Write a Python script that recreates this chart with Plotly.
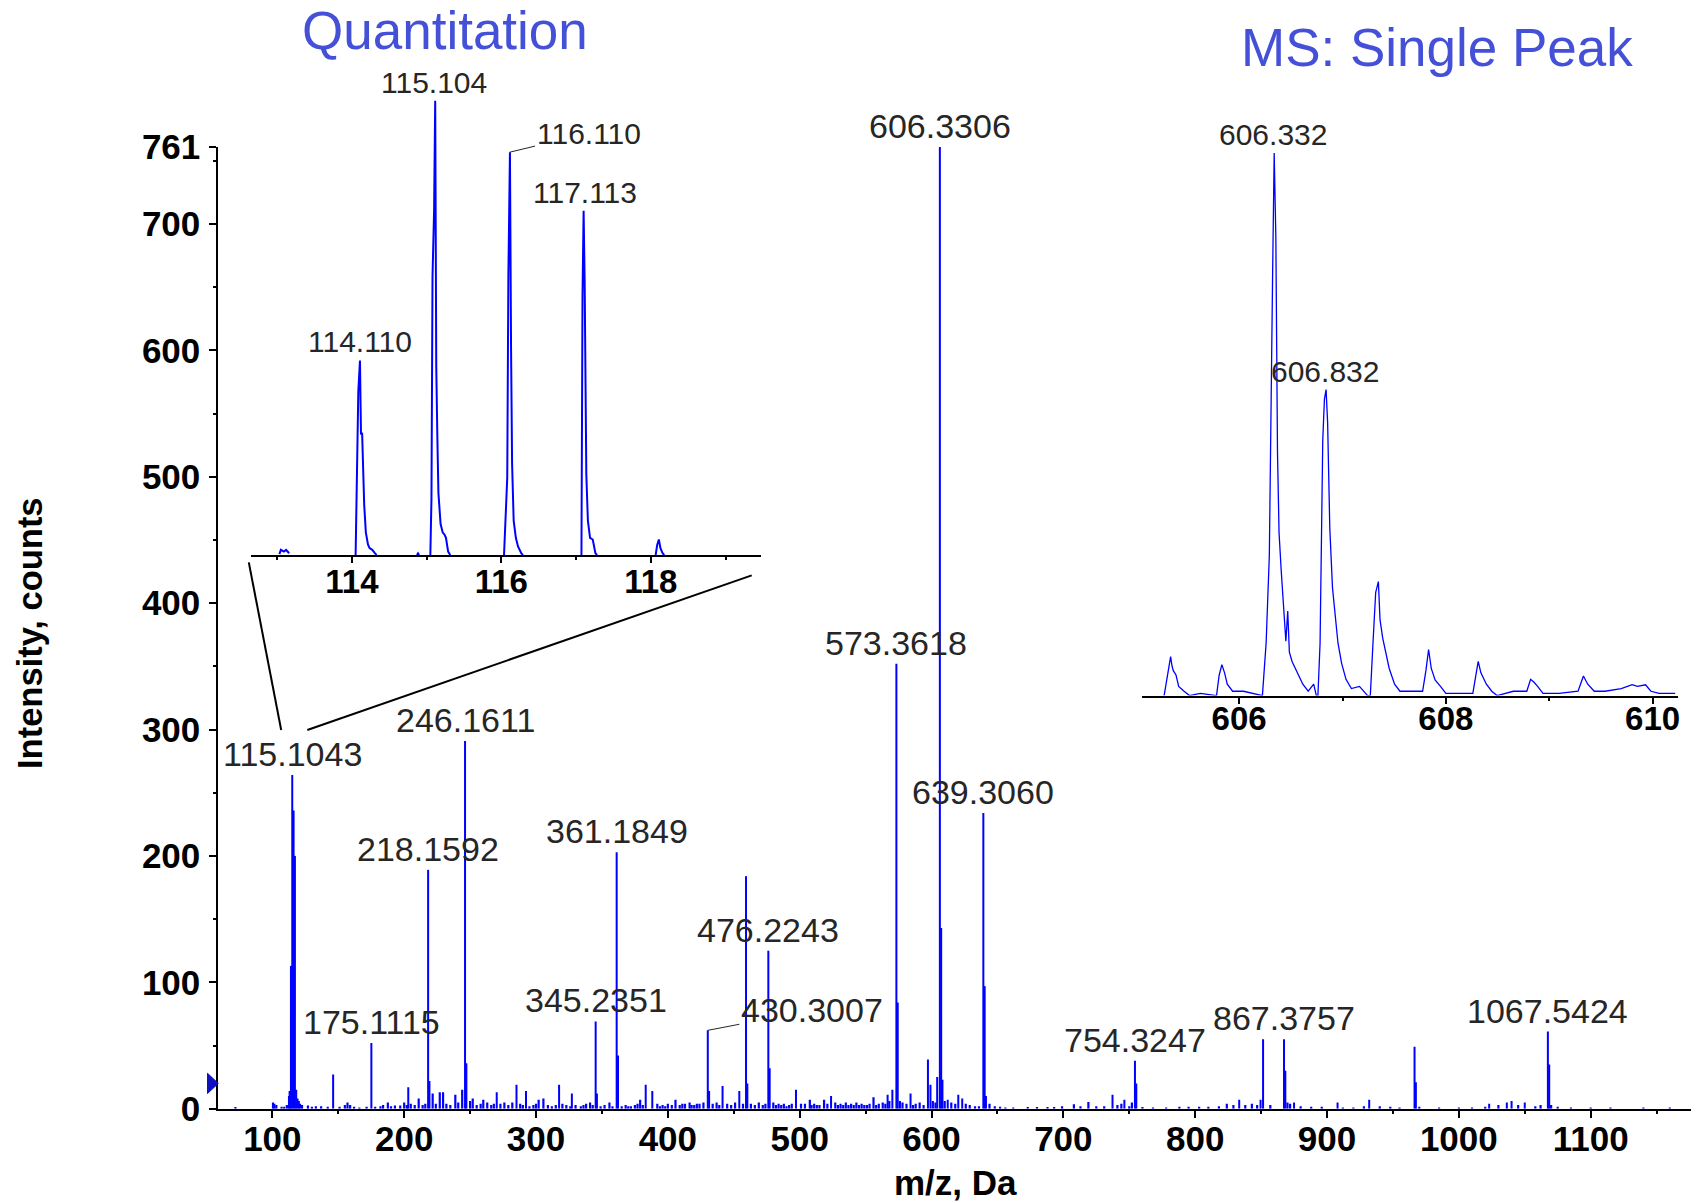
import plotly.graph_objects as go

# ---------------- data ----------------
# main spectrum: major sticks (m/z, counts)
pk_mz = [112.6, 113.1, 114.11, 115.10, 116.11, 117.11, 118.1, 119.1, 120.1, 146.1, 175.11, 203.1,
         218.16, 219.16, 246.16, 247.16, 270.2, 285.2, 292.4, 317.5, 327.2, 345.24, 346.2, 361.18,
         362.19, 383.2, 388.2, 430.30, 431.3, 441.5, 454.2, 459.3, 460.3, 476.22, 477.23, 497.2,
         523.8, 566.7, 570.3, 573.36, 574.37, 584.1, 597.3, 599.2, 604.3, 606.33, 607.33, 608.3,
         612.3, 620.3, 623.3, 639.31, 640.31, 641.3, 737.3, 746.3, 754.32, 755.33, 833.4, 849.6,
         851.5, 867.38, 868.38, 875.0, 908.0, 932.0, 966.4, 967.4, 1023.0, 1036.4, 1040.0, 1050.0,
         1067.54, 1068.54]
pk_int = [10, 14, 113, 264, 236, 200, 15, 8, 6, 27, 52, 17,
          189, 22, 291, 36, 13, 19, 14, 19, 12, 69, 12, 203,
          42, 19, 14, 62, 14, 18, 14, 184, 20, 125, 32, 15,
          10, 11, 15, 352, 84, 12, 39, 19, 25, 761, 143, 23,
          7, 11, 8, 234, 97, 10, 11, 7, 38, 20, 7, 7,
          55, 55, 30, 5, 5, 7, 49, 21, 4, 5, 6, 5,
          61, 35]

# baseline noise (m/z, counts)
noise_peaks = [
    (72, 1.3), (100.5, 5), (101.5, 4), (103, 3), (107, 1.5), (109, 1.5), (111, 3), (121, 4), (122.5, 3),
    (127, 2.5), (130, 1.5), (133, 2), (137, 2), (142, 1.5), (151, 1.5), (155, 3), (157, 5), (159, 3),
    (162, 1.5), (166, 1), (171.5, 1.5), (178, 1.5), (182, 2), (184, 3), (187.6, 5), (190, 2), (193, 2.5),
    (197, 2.5), (200, 5), (202, 3), (205, 4), (208, 3), (211, 8), (214, 3), (216, 4), (221.6, 12), (224, 4),
    (227, 13), (229.5, 13), (232, 4), (235, 3), (238.8, 11), (241, 5), (244, 15), (250, 6), (252, 8),
    (255, 3), (258, 4), (260, 7), (263, 5), (266, 3), (268, 4), (273, 4), (276, 5), (279, 3), (282, 5),
    (288, 4), (290, 3), (295, 2), (298, 3), (300, 4), (302, 7), (305.6, 8), (309, 3), (312, 2), (315, 3),
    (320, 4), (323, 3), (326, 2), (330, 3), (334, 2), (336, 3), (338, 4), (341, 5), (343, 3), (349, 2),
    (352, 3), (355.7, 5), (358, 2), (365, 2), (368, 3), (370, 2), (372, 2), (375, 3), (377, 4), (379, 7),
    (381, 3), (392, 4), (394, 2), (396, 3), (398, 2), (400, 4), (403, 3), (405.8, 7), (409, 3), (411, 4),
    (413, 4), (416.5, 5), (418, 3), (420, 3), (422, 4), (424, 4), (427, 5), (434, 4), (437, 5), (439, 3),
    (445, 4), (448, 3), (451, 5), (457, 4), (463, 4), (466, 3), (469, 5), (472, 3), (474, 4), (480, 5),
    (482, 3), (484, 4), (486, 3), (488, 4), (490, 2), (492, 3), (494, 4), (501, 4), (504, 4), (507.7, 7),
    (509, 3), (511, 4), (513, 3), (515, 3), (518.5, 7), (521, 4), (527, 5), (529, 3), (531, 4), (533, 3),
    (535, 5), (537, 3), (539, 4), (541, 3), (543, 5), (545, 3), (547, 4), (549, 3), (551, 3), (553, 4),
    (556, 9), (558, 3), (560, 4), (563, 5), (565, 4), (568, 6), (576, 6), (578, 5), (581, 4), (586, 3),
    (588, 4), (591, 5), (594, 3), (601, 6), (603, 5), (610, 6), (615, 5), (618, 4), (626, 4), (629, 3),
    (633, 2), (636, 2), (644, 4), (648, 2), (652, 1.5), (656, 1), (662, 1), (673, 1.3), (680, 1.3),
    (688, 1.3), (693, 1.3), (699, 2), (708, 3.5), (713, 2), (719, 5.4), (725, 2), (731, 2), (741, 3),
    (744, 4), (750, 2), (752, 5), (760, 1.3), (768, 1), (778, 1), (788, 1.5), (795, 1.5), (803, 1.5),
    (810, 1.5), (818, 2), (824, 4), (829, 3), (838, 3), (843, 4), (847, 3), (857, 3), (870, 5), (872, 4),
    (880, 2), (888, 1.5), (896, 1.5), (912, 1), (920, 1), (928, 2), (940, 2), (948, 1.5), (955, 1),
    (970, 1.5), (985, 1), (1000, 1), (1010, 1), (1020, 1.5), (1030, 3), (1045, 3), (1058, 2), (1062, 3),
    (1070, 3), (1075, 1.5), (1085, 1), (1100, 1), (1115, 1), (1140, 1), (1160, 1),
]

main_labels = [115.1043, 175.1115, 218.1592, 246.1611, 345.2351, 361.1849, 430.3007, 476.2243,
               573.3618, 606.3306, 639.3060, 754.3247, 867.3757, 1067.5424]
threshold = 20

# inset 1: reporter-ion region (profile segments, one list per peak)
q_segments_mz = [
    [113.03, 113.05, 113.09, 113.12, 113.16],
    [114.05, 114.07, 114.086, 114.108, 114.122, 114.137, 114.151, 114.165, 114.187, 114.216, 114.237,
     114.273, 114.31, 114.33],
    [114.87, 114.885, 114.90],
    [115.05, 115.065, 115.079, 115.10, 115.115, 115.129, 115.144, 115.158, 115.187, 115.216, 115.237,
     115.259, 115.288, 115.317],
    [116.036, 116.058, 116.079, 116.094, 116.115, 116.13, 116.144, 116.165, 116.194, 116.223, 116.266, 116.29],
    [117.072, 117.086, 117.101, 117.115, 117.137, 117.158, 117.187, 117.223, 117.259, 117.281],
    [118.065, 118.086, 118.108, 118.129, 118.158, 118.18],
]
q_segments_int = [
    [0.5, 3, 2, 3, 1],
    [0, 63, 95, 113, 70, 71, 40, 29, 13, 6, 4, 3, 1, 0],
    [0, 1, 0],
    [0, 33, 162, 200, 264, 110, 68, 36, 18, 13, 12, 10, 2, 0],
    [0, 30, 45, 162, 234, 120, 53, 20, 10, 5, 1, 0],
    [0, 150, 200, 158, 47, 20, 10, 9, 1, 0],
    [0, 6, 9, 4, 1, 0],
]
q_labels = [114.110, 115.104, 116.110, 117.113]

# inset 2: isotope cluster of 606.33 (profile, % of max)
s_mz = [605.274, 605.311, 605.337, 605.350, 605.363, 605.389, 605.415, 605.467, 605.520, 605.624, 605.781,
        605.807, 605.833, 605.859, 605.885, 605.937, 606.042,
        606.225, 606.261, 606.292, 606.308, 606.324, 606.339, 606.355, 606.371, 606.386, 606.407,
        606.433, 606.452, 606.470, 606.486, 606.512, 606.564, 606.616, 606.668, 606.721, 606.747,
        606.762, 606.783, 606.809, 606.825, 606.841, 606.856, 606.877, 606.903, 606.930, 606.956,
        606.992, 607.034, 607.086, 607.164, 607.243,
        607.269, 607.295, 607.321, 607.347, 607.363, 607.389, 607.415, 607.452, 607.504, 607.556, 607.661,
        607.775, 607.807, 607.833, 607.859, 607.896, 607.948, 608.000,
        608.261, 608.287, 608.313, 608.339, 608.392, 608.444, 608.496,
        608.653, 608.783, 608.820, 608.851, 608.888, 608.940,
        609.097, 609.279, 609.331, 609.373, 609.436, 609.540, 609.697,
        609.802, 609.854, 609.932, 609.984, 610.063, 610.219]
s_int = [0, 3.8, 7.2, 5.5, 4.6, 3.8, 1.7, 0.8, 0, 0.4, 0,
         3.8, 5.7, 4.2, 2.1, 0.8, 0.8,
         0, 9.7, 25.8, 58.8, 78, 100, 84.6, 44.8, 30, 23,
         16.5, 10, 15.6, 8, 6.3, 4.2, 2.1, 0.8, 2.1, 0,
         0, 9.7, 47, 54.6, 56.4, 50.3, 30.9, 19.9, 14, 9.7,
         5.9, 3, 1.3, 1.7, 0,
         0, 9.7, 19, 21, 14, 10.6, 8, 5, 2.1, 0.8, 0.8,
         0.8, 4.6, 8.5, 5, 2.9, 1.7, 0.4,
         0.4, 3, 6.3, 4.2, 2.1, 0.8, 0,
         0.8, 0.8, 3, 2.5, 1.7, 0.4,
         0.4, 0.8, 3.6, 2.1, 0.8, 0.8, 1.3,
         2, 1.7, 2, 0.8, 0.4, 0.4]
s_labels = [606.332, 606.832]

main_xticks = [100, 200, 300, 400, 500, 600, 700, 800, 900, 1000, 1100]
main_yticks = [0, 100, 200, 300, 400, 500, 600, 700, 761]
q_ticks = [114, 116, 118]
s_ticks = [606, 608, 610]

# ---------------- styling ----------------
W, H = 1696, 1203
BLUE = "#0000FF"
TITLE_BLUE = "#4450D7"
TXT = "#262626"
FONT = "Liberation Sans, Arial, sans-serif"


def px_x(p):
    return p / W


def px_y(p):
    return 1 - p / H


def sticks(mzs, ints):
    xs, ys = [], []
    for m, h in zip(mzs, ints):
        xs += [m, m, None]
        ys += [0, h, None]
    return xs, ys


def segments(seg_x, seg_y):
    xs, ys = [], []
    for sx, sy in zip(seg_x, seg_y):
        xs += list(sx) + [None]
        ys += list(sy) + [None]
    return xs, ys


fig = go.Figure()

nx, ny = sticks([p[0] for p in noise_peaks], [p[1] for p in noise_peaks])
fig.add_trace(go.Scatter(x=nx, y=ny, mode="lines", line=dict(color=BLUE, width=2.2),
                         hoverinfo="skip", showlegend=False, xaxis="x", yaxis="y"))
mx, my = sticks(pk_mz, pk_int)
fig.add_trace(go.Scatter(x=mx, y=my, mode="lines", line=dict(color=BLUE, width=2),
                         hoverinfo="skip", showlegend=False, xaxis="x", yaxis="y"))
qx, qy = segments(q_segments_mz, q_segments_int)
fig.add_trace(go.Scatter(x=qx, y=qy, mode="lines", line=dict(color=BLUE, width=2),
                         hoverinfo="skip", showlegend=False, xaxis="x2", yaxis="y2"))
fig.add_trace(go.Scatter(x=s_mz, y=s_int, mode="lines", line=dict(color=BLUE, width=1.3),
                         hoverinfo="skip", showlegend=False, xaxis="x3", yaxis="y3"))

axis_common = dict(showline=True, linecolor="black", linewidth=2, showgrid=False, zeroline=False,
                   ticks="outside", tickcolor="black", tickwidth=2, automargin=False)

fig.update_layout(
    template="none",
    width=W, height=H, margin=dict(l=0, r=0, t=0, b=0, pad=0), autosize=False,
    paper_bgcolor="white", plot_bgcolor="rgba(0,0,0,0)",
    font=dict(family=FONT, color="black"),
    xaxis=dict(**axis_common, domain=[px_x(218.3), px_x(1691)], range=[59.0, 1176.1],
               tickvals=main_xticks, ticklen=7, ticklabelstandoff=-9,
               tickfont=dict(size=35, family=FONT, weight="bold"),
               minor=dict(tickvals=[m + 50 for m in [0] + main_xticks], ticklen=3, tickwidth=2,
                          ticks="outside", tickcolor="black"),
               anchor="y"),
    yaxis=dict(**axis_common, domain=[px_y(1108.7), px_y(146.9)], range=[0, 761],
               tickvals=main_yticks, ticklen=7, ticklabelstandoff=2,
               tickfont=dict(size=35, family=FONT, weight="bold"),
               minor=dict(tickvals=[50, 150, 250, 350, 450, 550, 650, 750], ticklen=3, tickwidth=2,
                          ticks="outside", tickcolor="black"),
               anchor="x"),
    xaxis2=dict(**axis_common, domain=[px_x(251), px_x(761.4)], range=[112.65, 119.48],
                tickvals=q_ticks, ticklen=6, ticklabelstandoff=-10,
                tickfont=dict(size=33, family=FONT, weight="bold"),
                minor=dict(tickvals=[113, 115, 117, 119], ticklen=3, tickwidth=2,
                           ticks="outside", tickcolor="black"),
                anchor="y2"),
    yaxis2=dict(domain=[px_y(555), px_y(100.6)], range=[0, 264], visible=False, anchor="x2",
                automargin=False),
    xaxis3=dict(**axis_common, domain=[px_x(1142), px_x(1678.4)], range=[605.06, 610.25],
                tickvals=s_ticks, ticklen=6, ticklabelstandoff=-13,
                tickfont=dict(size=33, family=FONT, weight="bold"),
                minor=dict(tickvals=[607, 609], ticklen=3, tickwidth=2,
                           ticks="outside", tickcolor="black"),
                anchor="y3"),
    yaxis3=dict(domain=[px_y(695.6), px_y(152.9)], range=[0, 100], visible=False, anchor="x3",
                automargin=False),
)

annotations = []


def nearest(mz, xs, ys):
    best = min(range(len(xs)), key=lambda i: abs(xs[i] - mz))
    return ys[best]


for mz in main_labels:
    h = nearest(mz, pk_mz, pk_int)
    a = dict(x=mz, y=h, xref="x", yref="y", text=f"{mz:.4f}",
             font=dict(size=34, family=FONT, color=TXT), xanchor="center", yanchor="bottom",
             showarrow=False)
    if abs(mz - 430.3007) < 0.01:
        a.update(showarrow=True, ax=104, ay=-20, arrowhead=0, arrowwidth=1, arrowcolor=TXT,
                 xanchor="center", yanchor="middle", standoff=0)
    annotations.append(a)

q_all_mz = [m for seg in q_segments_mz for m in seg]
q_all_int = [v for seg in q_segments_int for v in seg]
for mz in q_labels:
    h = max(v for m, v in zip(q_all_mz, q_all_int) if abs(m - mz) < 0.1)
    a = dict(x=mz, y=h, xref="x2", yref="y2", text=f"{mz:.3f}",
             font=dict(size=30, family=FONT, color=TXT), xanchor="center", yanchor="bottom",
             showarrow=False)
    if abs(mz - 116.110) < 0.01:
        a.update(showarrow=True, ax=79, ay=-19, arrowhead=0, arrowwidth=1, arrowcolor=TXT,
                 yanchor="middle", standoff=0)
    annotations.append(a)

for mz in s_labels:
    h = max(v for m, v in zip(s_mz, s_int) if abs(m - mz) < 0.1)
    annotations.append(dict(x=mz, y=h, xref="x3", yref="y3", text=f"{mz:.3f}",
                            font=dict(size=30, family=FONT, color=TXT), xanchor="center",
                            yanchor="bottom", showarrow=False))

annotations += [
    dict(x=px_x(445), y=px_y(30), xref="paper", yref="paper", text="Quantitation", showarrow=False,
         font=dict(size=53, family=FONT, color=TITLE_BLUE), xanchor="center", yanchor="middle"),
    dict(x=px_x(1437), y=px_y(47.6), xref="paper", yref="paper", text="MS: Single Peak", showarrow=False,
         font=dict(size=53, family=FONT, color=TITLE_BLUE), xanchor="center", yanchor="middle"),
    dict(x=px_x(955), y=px_y(1182), xref="paper", yref="paper", text="m/z, Da", showarrow=False,
         font=dict(size=35, family=FONT, color="black", weight="bold"), xanchor="center", yanchor="middle"),
    dict(x=px_x(30), y=px_y(633), xref="paper", yref="paper", text="Intensity, counts", showarrow=False,
         textangle=-90, font=dict(size=34.5, family=FONT, color="black", weight="bold"),
         xanchor="center", yanchor="middle"),
]
fig.update_layout(annotations=annotations)

shapes = [
    dict(type="line", xref="paper", yref="paper", x0=px_x(248.8), y0=px_y(562.4), x1=px_x(281.2), y1=px_y(730),
         line=dict(color="black", width=2)),
    dict(type="line", xref="paper", yref="paper", x0=px_x(307.3), y0=px_y(730), x1=px_x(751.7), y1=px_y(575.4),
         line=dict(color="black", width=2)),
    dict(type="path", xref="paper", yref="y",
         path=f"M {px_x(207.5)},{threshold - 8} L {px_x(218.3)},{threshold} L {px_x(207.5)},{threshold + 8} Z",
         fillcolor="#1010C0", line=dict(color="#1010C0", width=1)),
]
fig.update_layout(shapes=shapes)

fig.write_html("out.html")
